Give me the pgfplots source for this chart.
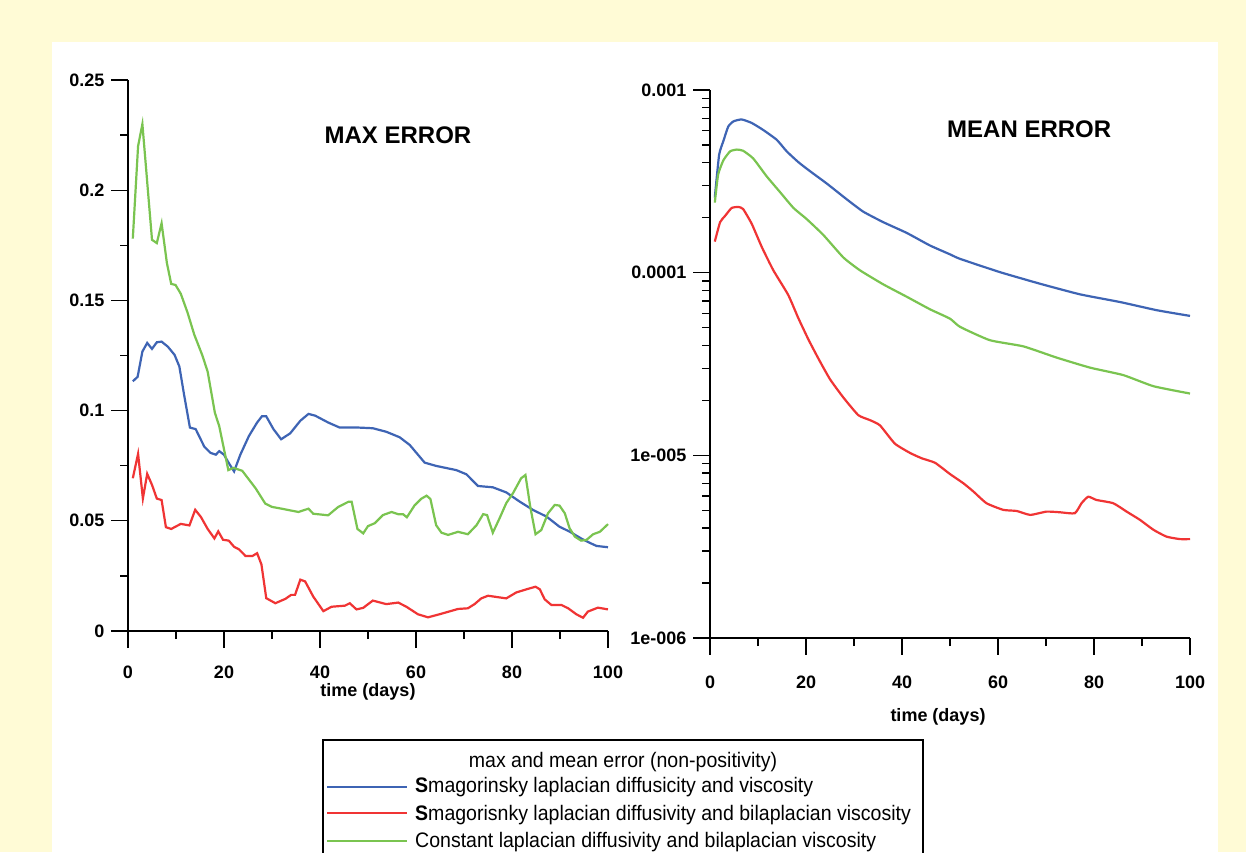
\documentclass[border=0pt]{standalone}
\usepackage{fontspec}
\setmainfont{Liberation Sans}
\newfontfamily\narrowfont[FakeStretch=0.93]{Liberation Sans}
\usepackage{pgfplots}
\pgfplotsset{compat=1.18}
\usepackage{pgfplotstable}

\definecolor{bgyellow}{RGB}{255,251,214}
\definecolor{cblue}{RGB}{62,100,180}
\definecolor{cred}{RGB}{240,52,52}
\definecolor{cgreen}{RGB}{122,196,80}

\newcommand\tickfont{\fontsize{18}{21}\selectfont\bfseries}
\newcommand\titlefont{\fontsize{24}{28}\selectfont\bfseries}
\newcommand\legfont{\fontsize{21}{24}\selectfont\narrowfont}

% max error (left)
\pgfplotstableread{
t v
1 0.1133
2 0.1153
3 0.1268
4 0.1307
5 0.128
6 0.131
7 0.1313
8.3 0.129
9.7 0.1253
10.7 0.12
11.7 0.107
12.9 0.0923
14.1 0.0916
14.8 0.0885
15.9 0.0836
17.2 0.0808
18.3 0.080
19 0.0816
20 0.080
21 0.0762
22.1 0.0724
23.4 0.080
25.2 0.0885
26.9 0.0946
27.9 0.0974
28.8 0.0974
30.3 0.0916
31.9 0.087
33.8 0.0897
35.9 0.0954
37.6 0.0985
39 0.0977
41.7 0.0946
44.1 0.0923
48 0.0923
51 0.092
53.8 0.0904
56.6 0.0879
58.7 0.0844
61.8 0.0764
64.2 0.0749
68.4 0.073
70.5 0.0711
72.9 0.0658
76 0.0652
78.8 0.0629
81.6 0.0587
84.4 0.0549
87.2 0.0519
89.9 0.0473
92 0.0451
94.4 0.042
96.2 0.040
97.6 0.0386
100 0.038
}\maxblue

\pgfplotstableread{
t v
1 0.0693
2.1 0.0804
3.1 0.0601
4 0.0713
5 0.0663
6 0.0601
7 0.0594
7.9 0.0471
9 0.0463
11 0.0486
12.8 0.0479
14 0.055
15.2 0.0517
16.6 0.0463
18 0.042
18.8 0.0452
19.8 0.0414
21 0.041
22.1 0.0382
23.1 0.0371
24.5 0.034
25.9 0.034
26.9 0.0353
27.8 0.0302
28.8 0.0149
30.7 0.0126
32.8 0.0146
34 0.0164
34.8 0.0164
35.9 0.0233
36.9 0.0225
38.6 0.0156
40.7 0.009
42.4 0.011
45.2 0.0115
46.2 0.0126
47.6 0.0098
49 0.0105
51 0.0138
53.8 0.0122
56.3 0.0129
58 0.011
60.4 0.0076
62.5 0.0062
64.9 0.0076
68.75 0.010
70.8 0.0103
72.2 0.0122
73.6 0.0148
75 0.016
78.8 0.0148
80.9 0.0175
83 0.0189
84.9 0.0201
85.8 0.0189
86.8 0.0144
88.2 0.0118
90.3 0.0118
91.7 0.0103
93.4 0.0076
94.8 0.006
95.8 0.0088
97.9 0.0106
100 0.0098
}\maxred

\pgfplotstableread{
t v
1 0.178
2.1 0.220
3 0.230
5 0.1775
6 0.176
7 0.185
8.1 0.167
9 0.1575
9.9 0.157
11 0.153
12.4 0.1445
13.8 0.1345
15.5 0.125
16.6 0.1176
18.1 0.099
19 0.093
20.9 0.073
22 0.074
23.8 0.0727
26.6 0.0647
28.6 0.0578
30 0.0563
32 0.0555
35.5 0.054
37.6 0.0555
38.6 0.0532
41.7 0.0525
43.8 0.0563
45.9 0.0586
46.6 0.0586
47.8 0.0463
49 0.0443
50 0.0476
51.4 0.0489
53.1 0.0526
54.9 0.054
56.3 0.053
57.3 0.053
58.1 0.0516
59.7 0.057
61.1 0.060
62.2 0.0614
63 0.0599
64.2 0.048
65.3 0.0446
66.7 0.0436
68.75 0.045
70.8 0.0439
72.6 0.048
74 0.053
74.8 0.0526
76 0.0446
77.4 0.0511
78.8 0.058
80.2 0.0625
81.9 0.0693
82.8 0.0708
83.8 0.0564
84.9 0.0439
86.1 0.0458
87.5 0.0534
88.9 0.0572
89.9 0.0569
91 0.0534
92 0.0466
93.1 0.0428
94.4 0.041
95.5 0.0413
96.9 0.0439
98.3 0.045
100 0.0485
}\maxgreen

% mean error (right)
\pgfplotstableread{
t v
1 2.58e-4
1.9 4.42e-4
2.8 5.27e-4
3.8 6.31e-4
4.9 6.74e-4
6.6 6.9e-4
8.7 6.6e-4
11.1 6.04e-4
13.9 5.34e-4
16 4.61e-4
18.4 4.03e-4
20.8 3.6e-4
24.3 3.08e-4
28.5 2.52e-4
31.9 2.16e-4
36.1 1.89e-4
41 1.65e-4
45.8 1.41e-4
50 1.26e-4
52.1 1.19e-4
60.4 1.007e-4
68.75 8.7e-5
77.1 7.61e-5
85.4 6.91e-5
93.1 6.23e-5
100 5.8e-5
}\meanblue

\pgfplotstableread{
t v
1 1.48e-4
2.1 1.89e-4
3.1 2.04e-4
4.5 2.26e-4
5.9 2.29e-4
6.9 2.23e-4
8.7 1.85e-4
10.8 1.38e-4
13.2 1.03e-4
16.3 7.55e-5
18.4 5.64e-5
20.5 4.31e-5
22.6 3.38e-5
25 2.61e-5
27.8 2.07e-5
30.9 1.66e-5
33.3 1.56e-5
35.4 1.46e-5
38.5 1.16e-5
41.7 1.03e-5
44.1 9.64e-6
46.9 9.1e-6
50 7.9e-6
52.8 7.03e-6
54.9 6.33e-6
57.6 5.47e-6
61.1 5.03e-6
63.9 4.96e-6
66.7 4.72e-6
70.1 4.92e-6
72.9 4.88e-6
76 4.82e-6
77.4 5.47e-6
78.8 5.94e-6
80.5 5.7e-6
84 5.47e-6
86.8 4.92e-6
89.6 4.43e-6
92.4 3.91e-6
95.1 3.59e-6
97.9 3.48e-6
100 3.48e-6
}\meanred

\pgfplotstableread{
t v
1 2.42e-4
1.7 3.45e-4
2.8 4.13e-4
4.2 4.62e-4
5.6 4.72e-4
6.9 4.65e-4
9 4.22e-4
11.8 3.37e-4
14.6 2.76e-4
17.4 2.26e-4
20.1 1.97e-4
23.6 1.61e-4
27.8 1.21e-4
31.25 1.03e-4
36.1 8.63e-5
41 7.38e-5
45.8 6.31e-5
50 5.6e-5
52.1 5.05e-5
58.3 4.27e-5
65.3 3.95e-5
72.2 3.43e-5
79.2 3.02e-5
86.1 2.75e-5
92.4 2.39e-5
100 2.18e-5
}\meangreen

\pgfplotsset{
  errax/.style={
    scale only axis,
    width=480pt,
    axis lines=left,
    axis line style={-, line width=1.4pt},
    tick align=outside,
    tick pos=left,
    major tick length=17pt,
    minor tick length=8pt,
    every tick/.style={black, line width=1.3pt},
    every minor tick/.style={black, line width=1.3pt},
    xmin=0, xmax=100,
    xtick={0,20,40,60,80,100},
    minor xtick={10,30,50,70,90},
    tick label style={font=\tickfont},
    yticklabel style={xshift=-3pt},
    /pgf/number format/assume math mode=true,
    label style={font=\tickfont},
    title style={font=\titlefont, anchor=center},
    clip=false,
  },
  errline/.style={line width=2.2pt},
}

\begin{document}
\begin{tikzpicture}
\useasboundingbox (0,0) rectangle (1246pt,852pt);
\fill[bgyellow] (0,0) rectangle (1246pt,852pt);
\fill[white] (52pt,0) rectangle (1218pt,810pt);

\begin{axis}[errax,
  at={(128pt,221pt)}, anchor=south west,
  height=551pt,
  ymin=0, ymax=0.25,
  ytick={0,0.05,0.1,0.15,0.2,0.25},
  yticklabels={0,0.05,0.1,0.15,0.2,0.25},
  minor ytick={0.025,0.075,0.125,0.175,0.225},
  xticklabel style={yshift=-14pt},
  xlabel={time (days)},
  xlabel style={at={(axis description cs:0.5,0)}, anchor=center, yshift=-61pt},
  title={MAX ERROR},
  title style={at={(axis description cs:0.5625,0.889)}},
]
\addplot[errline, cblue] table[x=t,y=v] {\maxblue};
\addplot[errline, cred] table[x=t,y=v] {\maxred};
\addplot[errline, cgreen] table[x=t,y=v] {\maxgreen};
\end{axis}

\begin{axis}[errax,
  at={(710pt,214pt)}, anchor=south west,
  height=548pt,
  ymode=log,
  ymin=1e-6, ymax=1e-3,
  ytick={1e-6,1e-5,1e-4,1e-3},
  yticklabels={1e-006,1e-005,0.0001,0.001},
  minor ytick={2e-6,3e-6,4e-6,5e-6,6e-6,7e-6,8e-6,9e-6,2e-5,3e-5,4e-5,5e-5,6e-5,7e-5,8e-5,9e-5,2e-4,3e-4,4e-4,5e-4,6e-4,7e-4,8e-4,9e-4},
  xticklabel style={yshift=-17pt},
  xlabel={time (days)},
  xlabel style={at={(axis description cs:0.475,0)}, anchor=center, yshift=-79pt},
  title={MEAN ERROR},
  title style={at={(axis description cs:0.665,0.918)}},
]
\addplot[errline, cblue, smooth, tension=0.3] table[x=t,y=v] {\meanblue};
\addplot[errline, cred, smooth, tension=0.3] table[x=t,y=v] {\meanred};
\addplot[errline, cgreen, smooth, tension=0.3] table[x=t,y=v] {\meangreen};
\end{axis}

% legend box, cut by the lower edge of the picture
\draw[line width=1.4pt] (323pt,-10pt) -- (323pt,112pt) -- (923pt,112pt) -- (923pt,-10pt);
\node[font=\legfont] at (623pt,90pt) {max and mean error (non-positivity)};
\draw[cblue, line width=2.8pt] (327pt,65pt) -- (407pt,65pt);
\draw[cred, line width=2.8pt] (327pt,39pt) -- (407pt,39pt);
\draw[cgreen, line width=2.8pt] (327pt,11pt) -- (407pt,11pt);
\node[font=\legfont, anchor=west, inner sep=0pt] at (415pt,65pt) {{\bfseries S}magorinsky laplacian diffusicity and viscosity};
\node[font=\legfont, anchor=west, inner sep=0pt] at (415pt,37pt) {{\bfseries S}magorisnky laplacian diffusivity and bilaplacian viscosity};
\node[font=\legfont, anchor=west, inner sep=0pt] at (415pt,10pt) {Constant laplacian diffusivity and bilaplacian viscosity};
\end{tikzpicture}
\end{document}
